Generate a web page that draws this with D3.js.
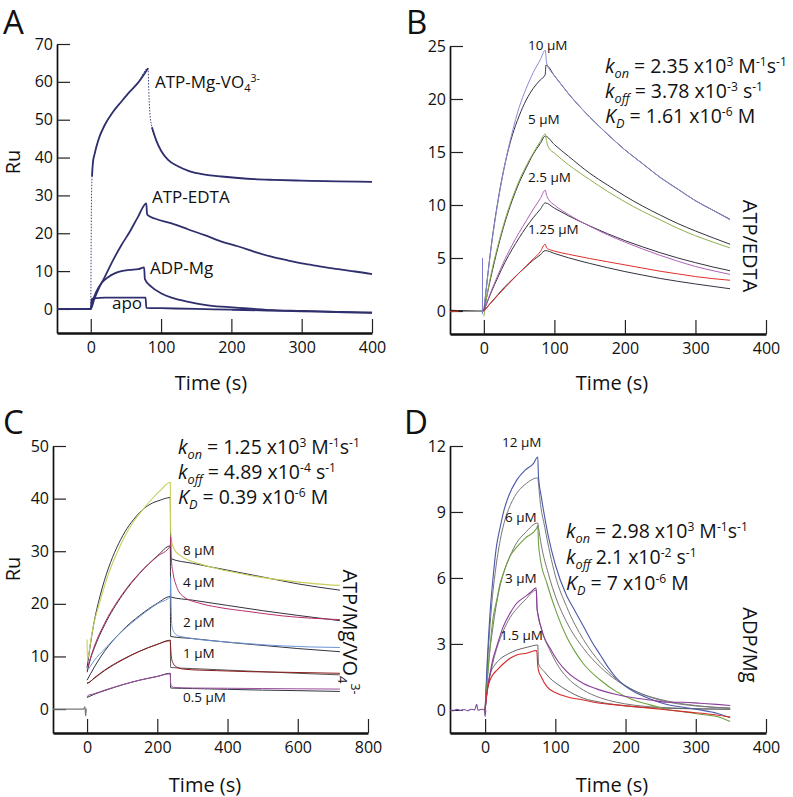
<!DOCTYPE html>
<html><head><meta charset="utf-8">
<script src="https://cdn.jsdelivr.net/npm/d3@7"></script>
<style>body{margin:0;background:#fff} svg{display:block} text{font-family:'Open Sans',sans-serif;font-weight:400;fill:#111}</style>
</head><body><svg id="c" width="793" height="797"></svg>
<script>
// ---------------- DATA (time s, response Ru) ----------------
// Panel A
const A_vo4 = [[-48,0],[-1,0],[0,0.2],[0.5,15],[1,28],[1.8,35],[3,38.5],[5.7,41.1],[10.4,44.4],[19.9,48.6],[31.8,52.1],[43.7,54.8],[55.5,57.4],[67.4,59.8],[81.5,63.6],[82.5,58],[84,52],[87,48],[93,44.6],[100,41.8],[110,39.4],[124,37.7],[139,36.5],[162,35.5],[186,35],[210,34.6],[233,34.3],[260,34.1],[300,33.9],[350,33.7],[400,33.6]];
const A_vo4_jumps = [[0,1.8],[81.5,87]];   // time windows drawn as faint dotted jumps
const A_edta = [[-48,0],[0,0],[5,2.6],[10.4,5.0],[20,8.5],[31.8,12.9],[43.7,16.9],[55.5,20.4],[67.4,24.4],[79,27.9],[80,25.2],[81,24.8],[91,23.9],[115,22.6],[139,21],[162,19.5],[186,17.8],[210,16.5],[233,15.1],[257,13.8],[281,12.8],[305,11.9],[328,11.2],[352,10.5],[376,9.9],[400,9.2]];
const A_adp = [[-48,0],[0,0],[3.3,2.4],[8,4.6],[15,6.8],[24.7,8.4],[34,9.4],[43.7,10.0],[55.5,10.3],[67.4,10.5],[75.9,11.0],[77,7.9],[86,5.9],[100.6,4.1],[115,3.0],[139,1.9],[162,1.1],[186,0.6],[210,0.3],[233,0],[260,-0.3],[300,-0.5],[350,-0.8],[400,-1.0]];
const A_apo = [[-48,0],[0,0],[1.5,2.6],[5,2.8],[20,3.0],[50,3.0],[78,3.0],[79,0.3],[100,0.2],[150,0],[200,-0.2],[250,-0.4],[300,-0.6],[350,-0.8],[400,-0.95]];
const A_labels = ["ATP-Mg-VO4 3-","ATP-EDTA","ADP-Mg","apo"];

// Panel B (ATP/EDTA)
const B_conc = ["10 µM","5 µM","2.5 µM","1.25 µM"];
const B_base = [[-48,0.05],[-10,0],[0,0]];
const B_spike = [[-2,-0.3],[-1.9,5.0]];
const B_10_data = [[0,0],[10,5.8],[20,10.3],[30,13.9],[40,16.8],[50,19.2],[60,21.0],[70,22.5],[80,23.7],[87,24.6],[89,23.4],[95,22.6],[100,22.2],[120,20.5],[150,18.3],[175,16.7],[200,15.2],[225,13.9],[250,12.6],[275,11.5],[300,10.4],[325,9.5],[349,8.6]];
const B_10_fit = [[0,0],[10,5.9],[20,10.4],[30,13.9],[40,16.5],[50,18.4],[60,19.9],[70,21.0],[80,21.8],[87,22.3],[88,23.2],[100,22.2],[120,20.5],[150,18.3],[175,16.7],[200,15.2],[225,13.9],[250,12.6],[275,11.5],[300,10.4],[325,9.5],[349,8.65]];
const B_5_data = [[0,-0.5],[1,0],[10,3.4],[20,6.2],[30,8.6],[40,10.6],[50,12.3],[60,13.7],[70,14.9],[80,16.0],[87,16.7],[89,16.0],[92,15.4],[100,14.9],[120,13.8],[150,12.4],[175,11.3],[200,10.3],[225,9.4],[250,8.6],[275,7.8],[300,7.1],[325,6.5],[349,5.95]];
const B_5_fit = [[0,0],[10,3.2],[20,6.0],[30,8.4],[40,10.4],[50,12.1],[60,13.5],[70,14.8],[80,15.8],[87,16.5],[100,15.7],[120,14.6],[150,13.0],[175,11.9],[200,10.85],[225,9.9],[250,9.05],[275,8.25],[300,7.55],[325,6.9],[349,6.3]];
const B_2_data = [[0,0],[10,1.8],[20,3.4],[30,4.9],[40,6.2],[50,7.4],[60,8.5],[70,9.6],[80,10.6],[87,11.4],[89,10.9],[92,10.5],[100,10.0],[120,9.1],[150,8.0],[175,7.2],[200,6.5],[225,5.85],[250,5.25],[275,4.7],[300,4.2],[325,3.8],[349,3.45]];
const B_2_fit = [[0,0],[10,1.7],[20,3.2],[30,4.6],[40,5.8],[50,6.9],[60,7.9],[70,8.8],[80,9.6],[87,10.2],[100,9.7],[120,8.98],[150,8.03],[175,7.3],[200,6.64],[225,6.05],[250,5.5],[275,5.0],[300,4.56],[325,4.15],[349,3.8]];
const B_1_data = [[0,0],[10,0.75],[20,1.5],[30,2.2],[40,2.9],[50,3.6],[60,4.25],[70,4.9],[80,5.6],[87,6.3],[89,5.95],[95,5.75],[100,5.65],[120,5.35],[150,4.95],[175,4.65],[200,4.35],[225,4.05],[250,3.75],[275,3.5],[300,3.25],[325,3.05],[349,2.9]];
const B_1_fit = [[0,0],[10,0.8],[20,1.55],[30,2.3],[40,2.95],[50,3.6],[60,4.2],[70,4.8],[80,5.3],[87,5.7],[100,5.43],[120,5.02],[150,4.49],[175,4.09],[200,3.72],[225,3.39],[250,3.07],[275,2.8],[300,2.55],[325,2.32],[349,2.1]];

// Panel C (ATP/Mg/VO4)
const C_conc = ["8 µM","4 µM","2 µM","1 µM","0.5 µM"];
const C_base = [[-97,0],[-10,0],[-6,0.4],[-4,-1.3],[-2,0],[-0.5,0]];
const C_8_data = [[0,13.2],[1,9.5],[3,9.8],[10,12.8],[18,15.8],[37,20.5],[60,25.5],[84,29.5],[108,32.9],[132,35.6],[155,37.6],[179,39.5],[208,41.5],[237,43.1],[238,34],[242,31.5],[250,30.2],[265,29.2],[290,28.3],[321,27.6],[369,26.7],[464,25.4],[558,24.5],[653,23.8],[720,23.5]];
const C_8_fit = [[0,7.8],[10,12.5],[18,15.8],[37,21.5],[61,26.8],[84,30.6],[108,33.7],[132,36.0],[155,37.7],[179,38.9],[208,39.7],[237,40.2],[238,28.6],[300,27.7],[400,26.4],[500,25.1],[600,23.8],[720,22.6]];
const C_4_data = [[0,7.5],[3,8.2],[10,9.8],[20,11.8],[50,16.3],[100,21.8],[150,25.9],[200,29.0],[237,31.0],[238,32.7],[240,28.5],[245,25.8],[255,23.3],[274,21.4],[321,20.1],[369,19.4],[464,18.5],[558,17.7],[720,17.0]];
const C_4_fit = [[0,7.0],[10,9.6],[20,11.5],[50,16.0],[100,21.6],[150,25.8],[200,29.1],[237,31.0],[238,21.3],[300,20.7],[400,19.7],[500,18.7],[600,17.8],[720,16.8]];
const C_2_data = [[0,8.2],[3,7.6],[10,8.2],[20,9.2],[50,11.4],[100,14.8],[150,17.6],[200,20.0],[237,21.4],[238,25.0],[239,20.7],[242,15.6],[250,14.4],[260,13.9],[274,13.7],[321,13.2],[369,12.9],[464,12.4],[558,12.0],[720,11.7]];
const C_2_fit = [[0,5.5],[10,6.7],[20,7.9],[50,11.0],[100,14.9],[150,17.8],[200,20.1],[237,21.4],[238,13.8],[300,13.4],[400,12.7],[500,12.1],[600,11.5],[720,10.9]];
const C_1_data = [[0,5.0],[3,5.0],[20,5.9],[50,7.4],[100,9.4],[150,11.0],[200,12.3],[237,13.0],[238,11.8],[240,9.9],[245,8.7],[255,8.0],[274,7.6],[321,7.4],[369,7.3],[464,7.1],[558,7.0],[720,6.8]];
const C_1_fit = [[0,4.8],[20,5.8],[50,7.3],[100,9.3],[150,11.0],[200,12.3],[237,13.1],[238,7.9],[300,7.7],[400,7.4],[500,7.1],[600,6.8],[720,6.5]];
const C_05_data = [[0,2.3],[3,2.6],[20,2.9],[50,3.6],[100,4.6],[150,5.5],[200,6.2],[237,6.7],[238,5.0],[240,4.4],[250,4.1],[300,4.0],[400,3.95],[500,3.9],[600,3.85],[720,3.8]];
const C_05_fit = [[0,2.2],[20,2.8],[50,3.5],[100,4.6],[150,5.5],[200,6.2],[237,6.8],[238,4.0],[300,3.9],[400,3.75],[500,3.6],[600,3.5],[720,3.35]];

// Panel D (ADP/Mg)
const D_conc = ["12 µM","6 µM","3 µM","1.5 µM"];
const D_base = [[-50,0],[-45,-0.04],[-40,0.03],[-35,-0.03],[-30,0.02],[-25,-0.04],[-20,0.03],[-15,0],[-12,0.25],[-10,-0.02],[-5,0.03],[-1,0],[0,-0.3],[1,0]];
const D_12_data = [[0,0],[2.3,1.7],[7,4.4],[11.9,6.2],[16,7.4],[21.4,8.3],[27,9.1],[33.2,9.7],[45,10.45],[56.9,10.9],[68.7,11.2],[75,11.5],[76,10.6],[80,9.7],[90,7.9],[100,6.6],[116,5.2],[128,4.5],[140,3.8],[152,3.1],[164,2.5],[176,1.9],[187,1.45],[199,1.1],[211,0.85],[235,0.5],[259,0.25],[283,0.12],[306,0.0],[330,-0.15],[349,-0.35]];
const D_12_fit = [[0,0],[3,1.9],[6,3.4],[10,5.0],[15,6.4],[21.4,7.7],[27,8.5],[33.2,9.1],[45,9.85],[56.9,10.25],[75,10.55],[76,10.3],[78,9.6],[85,8.3],[92.5,7.1],[100,6.1],[116,4.7],[140,3.2],[164,2.15],[187,1.4],[211,0.9],[235,0.58],[260,0.36],[300,0.18],[349,0.08]];
const D_6_data = [[0,0],[2.4,1.06],[7.1,2.9],[11,4.1],[16.6,5.0],[21,5.7],[26,6.2],[35.6,7.0],[45,7.4],[57,7.8],[73.5,8.26],[75,8.4],[76,7.6],[78,7.0],[88,5.76],[102,4.4],[116,3.33],[128,2.65],[140,2.1],[164,1.36],[187,0.83],[211,0.45],[235,0.23],[250,0.1],[259,0.02],[283,-0.08],[306,-0.2],[330,-0.3],[349,-0.53]];
const D_6_fit = [[0,0],[3,1.4],[6,2.5],[10,3.5],[16.6,4.9],[21,5.6],[26,6.2],[35.6,7.0],[45,7.6],[57,8.05],[75,8.5],[76,8.3],[80,7.5],[90,6.2],[102,5.0],[116,4.0],[140,2.8],[164,1.95],[187,1.35],[211,0.9],[235,0.6],[260,0.4],[300,0.2],[349,0.08]];
const D_3_data = [[0,0],[2.4,0.76],[7.1,1.67],[11,2.3],[16.6,2.9],[26,3.8],[35.6,4.4],[45,4.85],[57,5.15],[65,5.35],[72.6,5.55],[74,4.6],[75,4.4],[83,3.4],[92.5,2.8],[104,2.2],[116,1.75],[140,1.2],[164,0.9],[187,0.7],[211,0.55],[235,0.45],[259,0.35],[283,0.35],[306,0.3],[330,0.25],[349,0.2]];
const D_3_fit = [[0,0],[3,0.8],[6,1.4],[10,2.0],[16.6,2.8],[26,3.6],[35.6,4.2],[45,4.6],[57,5.0],[73,5.45],[74,4.6],[80,3.7],[92.5,2.7],[104,2.0],[116,1.5],[140,0.9],[164,0.55],[187,0.35],[211,0.22],[260,0.1],[349,0.03]];
const D_15_data = [[0,0],[2.4,0.76],[7.1,1.36],[11,1.6],[16.6,1.8],[26,2.1],[35.6,2.35],[45,2.5],[59,2.58],[73.5,2.7],[75,2.0],[76,1.8],[80,1.5],[88,1.06],[102,0.76],[116,0.6],[140,0.45],[164,0.3],[187,0.23],[235,0.08],[283,-0.08],[330,-0.23],[349,-0.33]];
const D_15_fit = [[0,0],[3,0.9],[7,1.6],[14,2.05],[21,2.3],[33,2.55],[45,2.72],[60,2.85],[75,2.95],[76,2.1],[84,1.75],[92.5,1.44],[104,1.15],[116,0.9],[140,0.53],[164,0.35],[187,0.23],[235,0.1],[349,0.03]];

// Tick values
const A_xticks = [0,100,200,300,400], A_yticks = [0,10,20,30,40,50,60,70];
const B_xticks = [0,100,200,300,400], B_yticks = [0,5,10,15,20,25];
const C_xticks = [0,200,400,600,800], C_yticks = [0,10,20,30,40,50];
const D_xticks = [0,100,200,300,400], D_yticks = [0,3,6,9,12];

// ---------------- DRAWING ----------------
const svg = d3.select('#c');
const FONT = "'Open Sans'";

function panel(xd, xr, yd, yr, xt, yt) {
  const x = d3.scaleLinear().domain(xd).range(xr);
  const y = d3.scaleLinear().domain(yd).range(yr);
  const g = svg.append('g');
  const ya = g.append('g').attr('transform', `translate(${xr[0]},0)`)
    .call(d3.axisLeft(y).tickValues(yt).tickSize(-13).tickSizeOuter(0).tickPadding(4));
  const xa = g.append('g').attr('transform', `translate(0,${yr[0]})`)
    .call(d3.axisBottom(x).tickValues(xt).tickSize(-14).tickSizeOuter(0).tickPadding(9));
  [ya, xa].forEach(a => {
    a.selectAll('text').attr('font-family', FONT).attr('font-size', 16).attr('fill', '#111');
    a.selectAll('.tick line').attr('stroke', '#222').attr('stroke-width', 1.2);
  });
  ya.select('.domain').attr('stroke', '#111').attr('stroke-width', 1.7);
  xa.select('.domain').attr('stroke', '#111').attr('stroke-width', 2.3);
  const line = d3.line().x(d => x(d[0])).y(d => y(d[1])).curve(d3.curveMonotoneX);
  const plot = g.append('g');
  const draw = (data, color, w, dash) => {
    const p = plot.append('path').attr('d', line(data))
      .attr('fill', 'none').attr('stroke', color).attr('stroke-width', w).attr('stroke-linejoin', 'round');
    if (dash) p.attr('stroke-dasharray', dash);
    return p;
  };
  return {x, y, g, draw};
}

// rich text helper: parts = [[text, flags]] flags: i italic, ^ sup, _ sub
function rich(parent, x, y, parts, fs, opts = {}) {
  const t = parent.append('text').attr('font-size', fs);
  if (opts.rotate !== undefined) t.attr('transform', `translate(${x},${y}) rotate(${opts.rotate})`);
  else t.attr('x', x).attr('y', y);
  if (opts.anchor) t.attr('text-anchor', opts.anchor);
  let cur = 0;
  parts.forEach(([txt, fl = '']) => {
    const s = t.append('tspan').text(txt);
    let off = 0, size = fs;
    if (fl.includes('^')) { off = -0.38 * fs; size = 0.62 * fs; }
    if (fl.includes('_')) { off = 0.24 * fs; size = 0.65 * fs; }
    s.attr('font-size', size).attr('dy', off - cur);
    cur = off;
    if (fl.includes('i')) s.attr('font-style', 'italic');
  });
  return t;
}
function plain(x, y, txt, fs, opts = {}) { return rich(svg, x, y, [[txt]], fs, opts); }

const FIT = '#33333f';
const KFS = 19.5;

// Panel A
{
  const p = panel([-48, 400], [57, 372], [-6.35, 70], [333, 44], A_xticks, A_yticks);
  const c = '#2f2f6e';
  [A_apo, A_adp, A_edta].forEach(d => p.draw(d, c, 1.8));
  // faint dotted trace through the fast jumps, solid elsewhere
  p.draw(A_vo4, c, 0.9, '1.5,1.5');
  const inJump = t => A_vo4_jumps.some(([a, b]) => t > a && t < b);
  let seg = [];
  const segs = [];
  A_vo4.forEach(d => { if (inJump(d[0])) { if (seg.length) segs.push(seg); seg = []; } else seg.push(d); });
  if (seg.length) segs.push(seg);
  segs.forEach(s => { if (s.length > 1) p.draw(s, c, 1.8); });
  rich(svg, 155, 88, [["ATP-Mg-VO"], ["4", "_"], ["3-", "^"]], 17);
  plain(152, 203, A_labels[1], 17);
  plain(150, 274, A_labels[2], 17);
  plain(112, 309, A_labels[3], 17);
}
// Panel B
{
  const p = panel([-48, 400], [450, 766], [-2.17, 25], [334, 46], B_xticks, B_yticks);
  p.draw(B_base, '#222', 1.2);
  p.draw([[-48, -0.05], [-36, -0.02]], '#c0392b', 1.2);
  p.draw(B_spike, '#7b7bd0', 1);
  p.draw(B_10_fit, FIT, 1);
  p.draw(B_10_data, '#8b8bd6', 1);
  p.draw(B_5_fit, FIT, 1);
  p.draw(B_5_data, '#8db04c', 1);
  p.draw(B_2_fit, FIT, 1);
  p.draw(B_2_data, '#b060b8', 1);
  p.draw(B_1_fit, FIT, 1);
  p.draw(B_1_data, '#e0302a', 1);
  const ys = [50, 124, 182, 234];
  B_conc.forEach((t, i) => plain(528, ys[i], t, 13.5));
  rich(svg, 605, 73, [["k","i"],["on","i_"],[" = 2.35 x10"],["3","^"],[" M"],["-1","^"],["s"],["-1","^"]], KFS);
  rich(svg, 605, 98, [["k","i"],["off","i_"],[" = 3.78 x10"],["-3","^"],[" s"],["-1","^"]], KFS);
  rich(svg, 605, 123, [["K","i"],["D","i_"],[" = 1.61 x10"],["-6","^"],[" M"]], KFS);
  plain(743, 246, "ATP/EDTA", 20, {rotate: 90, anchor: 'middle'});
}
// Panel C
{
  const p = panel([-97, 800], [53, 368], [-4.55, 50], [733, 446], C_xticks, C_yticks);
  p.draw(C_base, '#777', 1.2);
  p.draw(C_8_fit, FIT, 1);
  p.draw(C_8_data, '#c8cf5c', 1.1);
  p.draw(C_4_fit, FIT, 1);
  p.draw(C_4_data, '#b8306b', 1);
  p.draw(C_2_fit, FIT, 1);
  p.draw(C_2_data, '#6c95d9', 1);
  p.draw(C_1_fit, '#555', 1);
  p.draw(C_1_data, '#8b1a1a', 1);
  p.draw(C_05_fit, FIT, 1);
  p.draw(C_05_data, '#9b4f9f', 1);
  const ys = [555, 587, 627, 658, 702];
  C_conc.forEach((t, i) => plain(183, ys[i], t, 13.5));
  rich(svg, 178, 454, [["k","i"],["on","i_"],[" = 1.25 x10"],["3","^"],[" M"],["-1","^"],["s"],["-1","^"]], KFS);
  rich(svg, 178, 479, [["k","i"],["off","i_"],[" = 4.89 x10"],["-4","^"],[" s"],["-1","^"]], KFS);
  rich(svg, 178, 504, [["K","i"],["D","i_"],[" = 0.39 x10"],["-6","^"],[" M"]], KFS);
  rich(svg, 343, 632, [["ATP/Mg/VO"],["4","_"],["3-","^"]], 20, {rotate: 90, anchor: 'middle'});
}
// Panel D
{
  const p = panel([-50, 400], [450, 766], [-1.05, 12], [733, 446], D_xticks, D_yticks);
  p.draw(D_base, '#7a4a9a', 1.1);
  p.draw(D_12_fit, '#777', 1);
  p.draw(D_6_fit, '#777', 1);
  p.draw(D_3_fit, '#777', 1);
  p.draw(D_15_fit, '#666', 1);
  p.draw(D_12_data, '#4a58a8', 1.1);
  p.draw(D_6_data, '#6fa040', 1.1);
  p.draw(D_3_data, '#8a3d9a', 1.1);
  p.draw(D_15_data, '#d42a2a', 1.1);
  const xs = [502, 505, 505, 500], ys = [447, 522, 583, 640];
  D_conc.forEach((t, i) => plain(xs[i], ys[i], t, 13.5));
  rich(svg, 566, 538, [["k","i"],["on","i_"],[" = 2.98 x10"],["3","^"],[" M"],["-1","^"],["s"],["-1","^"]], KFS);
  rich(svg, 566, 564, [["k","i"],["off","i_"],[" 2.1 x10"],["-2","^"],[" s"],["-1","^"]], KFS);
  rich(svg, 566, 590, [["K","i"],["D","i_"],[" = 7 x10"],["-6","^"],[" M"]], KFS);
  plain(743, 645, "ADP/Mg", 20, {rotate: 90, anchor: 'middle'});
}
// Axis titles & panel letters
[[211, 390], [612, 390], [205, 792], [612, 792]].forEach(([x, y]) => plain(x, y, "Time (s)", 20, {anchor: 'middle'}));
plain(20, 162, "Ru", 20, {rotate: -90, anchor: 'middle'});
plain(20, 569, "Ru", 20, {rotate: -90, anchor: 'middle'});
[["A", 3, 34], ["B", 406, 34], ["C", 3, 434], ["D", 404, 434]].forEach(([l, x, y]) =>
  plain(x, y, l, 33).attr('font-family', 'Liberation Sans'));
</script></body></html>
